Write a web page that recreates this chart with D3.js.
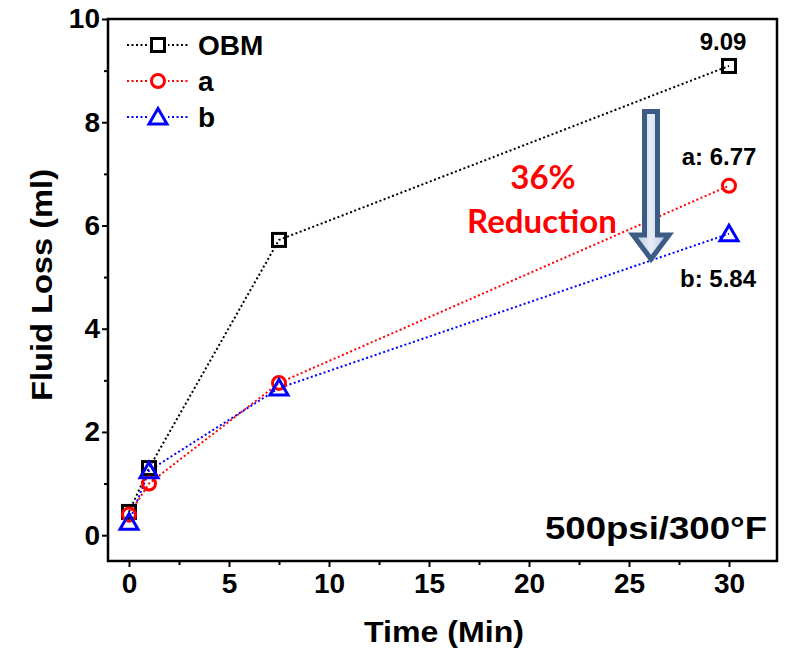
<!DOCTYPE html>
<html>
<head>
<meta charset="utf-8">
<script src="https://d3js.org/d3.v7.min.js"></script>
<style>
  body { margin: 0; background: #fff; }
  text { font-family: Arial, "Liberation Sans", sans-serif; font-weight: bold; }
</style>
</head>
<body>
<div id="chart"></div>
<script>
// data
var times = [0, 1, 7.5, 30];
var obm = [0.45, 1.3, 5.72, 9.09];
var seriesA = [0.4, 1.0, 2.95, 6.77];
var seriesB = [0.25, 1.25, 2.85, 5.84];
var seriesNames = ["OBM", "a", "b"];
var seriesColors = ["#000000", "#ff0000", "#0000ff"];
var seriesShapes = ["square", "circle", "triangle"];
var xTicks = [0, 5, 10, 15, 20, 25, 30];
var xMinor = [2.5, 7.5, 12.5, 17.5, 22.5, 27.5];
var yTicks = [0, 2, 4, 6, 8, 10];
var yMinor = [1, 3, 5, 7, 9];

var W = 786, H = 651;
var margin = {top: 19, right: 9, bottom: 90, left: 108};
var width = W - margin.left - margin.right;
var height = H - margin.top - margin.bottom;

var svg = d3.select("#chart").append("svg")
    .attr("width", W).attr("height", H);
var g = svg.append("g")
    .attr("transform", "translate(" + margin.left + "," + margin.top + ")");

var x = d3.scaleLinear().domain([-1.05, 32.4]).range([0, width]);
var y = d3.scaleLinear().domain([-0.5, 10]).range([height, 0]);

// frame
g.append("rect").attr("width", width).attr("height", height)
    .attr("fill", "none").attr("stroke", "#000").attr("stroke-width", 2.5);

// axes, major + minor ticks
g.append("g").attr("transform", "translate(0," + height + ")")
    .call(d3.axisBottom(x).tickValues(xTicks).tickSize(6).tickPadding(6));
g.append("g").attr("transform", "translate(0," + height + ")")
    .call(d3.axisBottom(x).tickValues(xMinor).tickSize(4).tickFormat(""));
g.append("g")
    .call(d3.axisLeft(y).tickValues(yTicks).tickSize(6).tickPadding(2));
g.append("g")
    .call(d3.axisLeft(y).tickValues(yMinor).tickSize(4).tickFormat(""));
g.selectAll(".domain").remove();
g.selectAll(".tick line").attr("stroke", "#000").attr("stroke-width", 2);
g.selectAll(".tick text").attr("font-size", 28).attr("fill", "#000")
    .style("font-family", "Arial, 'Liberation Sans', sans-serif").style("font-weight", "bold");

// axis titles
svg.append("text").attr("x", 444).attr("y", 642).attr("text-anchor", "middle")
    .attr("font-size", 30).attr("textLength", 160).attr("lengthAdjust", "spacingAndGlyphs")
    .text("Time (Min)");
svg.append("text").attr("transform", "translate(52,285) rotate(-90)")
    .attr("text-anchor", "middle").attr("font-size", 30)
    .attr("textLength", 232).attr("lengthAdjust", "spacingAndGlyphs")
    .text("Fluid Loss (ml)");

function drawMarker(sel, shape, color) {
  if (shape === "square") {
    sel.append("rect").attr("x", -6.5).attr("y", -6.5).attr("width", 13).attr("height", 13)
      .attr("fill", "none").attr("stroke", color).attr("stroke-width", 3);
  } else if (shape === "circle") {
    sel.append("circle").attr("r", 6.5)
      .attr("fill", "none").attr("stroke", color).attr("stroke-width", 3);
  } else {
    sel.append("path").attr("d", "M0,-8.5L9,7L-9,7Z")
      .attr("fill", "none").attr("stroke", color).attr("stroke-width", 3);
  }
}

var allSeries = [obm, seriesA, seriesB];
var line = d3.line().x(function(d) { return x(d[0]); }).y(function(d) { return y(d[1]); });

allSeries.forEach(function(vals, i) {
  var pts = times.map(function(t, j) { return [t, vals[j]]; });
  g.append("path").datum(pts).attr("d", line)
    .attr("fill", "none").attr("stroke", seriesColors[i])
    .attr("stroke-width", 2).attr("stroke-dasharray", "2,2.5");
});
allSeries.forEach(function(vals, i) {
  times.forEach(function(t, j) {
    var m = g.append("g").attr("transform", "translate(" + x(t) + "," + y(vals[j]) + ")");
    drawMarker(m, seriesShapes[i], seriesColors[i]);
  });
});

// legend
seriesNames.forEach(function(name, i) {
  var ly = 45 + i * 36;
  svg.append("line").attr("x1", 127).attr("x2", 190).attr("y1", ly).attr("y2", ly)
    .attr("stroke", seriesColors[i]).attr("stroke-width", 2).attr("stroke-dasharray", "2,2.5");
  var m = svg.append("g").attr("transform", "translate(158," + ly + ")");
  m.append("rect").attr("x", -10).attr("y", -10).attr("width", 20).attr("height", 20).attr("fill", "#fff");
  drawMarker(m, seriesShapes[i], seriesColors[i]);
  svg.append("text").attr("x", 198).attr("y", ly + 10).attr("font-size", 28).text(name);
});

// end value labels
svg.append("text").attr("x", 723).attr("y", 50).attr("text-anchor", "middle").attr("font-size", 24).text("9.09");
svg.append("text").attr("x", 719).attr("y", 165).attr("text-anchor", "middle").attr("font-size", 24).text("a: 6.77");
svg.append("text").attr("x", 718).attr("y", 287).attr("text-anchor", "middle").attr("font-size", 24).text("b: 5.84");

// reduction annotation
svg.append("text").attr("x", 543).attr("y", 189).attr("text-anchor", "middle")
  .attr("font-size", 33).attr("fill", "#ff0000")
  .style("font-family", "Lato, 'Open Sans', sans-serif").text("36%");
svg.append("text").attr("x", 542).attr("y", 233).attr("text-anchor", "middle")
  .attr("font-size", 33).attr("fill", "#ff0000")
  .style("font-family", "Lato, 'Open Sans', sans-serif").text("Reduction");

var defs = svg.append("defs");
var grad = defs.append("linearGradient").attr("id", "arrowGrad")
  .attr("x1", "0%").attr("x2", "100%").attr("y1", "0%").attr("y2", "0%");
grad.append("stop").attr("offset", "0%").attr("stop-color", "#a9c1de");
grad.append("stop").attr("offset", "50%").attr("stop-color", "#e8eef7");
grad.append("stop").attr("offset", "100%").attr("stop-color", "#a9c1de");

svg.append("path")
  .attr("d", "M644.5,111.5 L657.5,111.5 L657.5,235 L669,235 L651,259 L633,235 L644.5,235 Z")
  .attr("fill", "url(#arrowGrad)").attr("stroke", "#3d5c85").attr("stroke-width", 5)
  .attr("stroke-linejoin", "miter");

// condition label
svg.append("text").attr("x", 767).attr("y", 539).attr("text-anchor", "end")
  .attr("font-size", 31).attr("textLength", 222).attr("lengthAdjust", "spacingAndGlyphs")
  .text("500psi/300°F");
</script>
</body>
</html>
